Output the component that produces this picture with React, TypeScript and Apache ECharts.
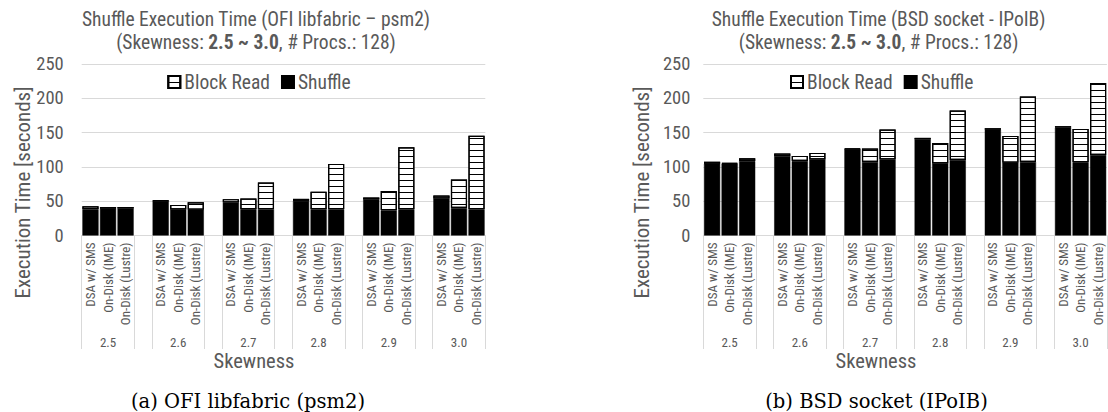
import React, { useEffect, useRef } from 'react';
import * as echarts from 'echarts';

const skewness = ['2.5', '2.6', '2.7', '2.8', '2.9', '3.0'];
const methods = ['DSA w/ SMS', 'On-Disk (IME)', 'On-Disk (Lustre)'];
const yTicks = [0, 50, 100, 150, 200, 250];

// (a) OFI libfabric (psm2) — one value per skewness
const psm2ShuffleDSA = [38.5, 50.5, 48, 50.5, 52.5, 54];
const psm2ShuffleIME = [39, 38, 38.5, 38.5, 37, 40];
const psm2ShuffleLustre = [39.5, 37.5, 38.5, 38.5, 38.5, 38.5];
const psm2BlockDSA = [4.2, 0.5, 5, 2.9, 2.9, 4.3];
const psm2BlockIME = [2.5, 6.6, 15.5, 25.1, 28, 41.6];
const psm2BlockLustre = [2, 11, 38.8, 65.9, 90.2, 106.8];

// (b) BSD socket (IPoIB)
const ipoibShuffleDSA = [104.5, 115.5, 126, 140, 154, 157.4];
const ipoibShuffleIME = [104.5, 108.5, 107.3, 105, 106, 107];
const ipoibShuffleLustre = [108.5, 110.8, 111, 110, 107.3, 117.5];
const ipoibBlockDSA = [3, 4, 0.8, 2.3, 2.4, 1.9];
const ipoibBlockIME = [1, 7.5, 19.5, 30, 39.2, 48.4];
const ipoibBlockLustre = [4.2, 9.6, 43.5, 72.2, 95.3, 104.9];

const FONT = '"Roboto Condensed", "Liberation Sans Narrow", "DejaVu Sans Condensed", Roboto, sans-serif';
const GRAY = '#595959';

function flatten(a: number[], b: number[], c: number[]): (number | string)[] {
  const out: (number | string)[] = [];
  for (let g = 0; g < skewness.length; g++) {
    out.push(a[g], b[g], c[g]);
    if (g < skewness.length - 1) out.push('-');
  }
  return out;
}

function categories(): string[] {
  const out: string[] = [];
  for (let g = 0; g < skewness.length; g++) {
    out.push(...methods);
    if (g < skewness.length - 1) out.push('');
  }
  return out;
}

function groupLabels(): string[] {
  const out: string[] = [];
  for (let g = 0; g < skewness.length; g++) {
    out.push('', skewness[g], '');
    if (g < skewness.length - 1) out.push('');
  }
  return out;
}

const blockStyle = {
  color: '#ffffff',
  borderColor: '#000000',
  borderWidth: 1.2,
  decal: {
    symbol: 'rect',
    symbolSize: 1,
    dashArrayX: [1, 0],
    dashArrayY: [1, 4.7],
    color: '#000000',
    rotation: 0,
  },
};
const shuffleStyle = { color: '#000000', borderColor: '#000000', borderWidth: 0.5 };

export default function App() {
  const ref = useRef<HTMLDivElement>(null);
  useEffect(() => {
    if (!ref.current) return;
    const chart = echarts.init(ref.current, null, { renderer: 'svg' });
    const cats = categories();
    const grp = groupLabels();
    const grids = [
      { left: 81.7, top: 64, width: 403.6, height: 171.5 },
      { left: 703.3, top: 64, width: 403.6, height: 171.5 },
    ];
    const xAxes: any[] = [];
    const yAxes: any[] = [];
    [0, 1].forEach((gi) => {
      xAxes.push({
        type: 'category',
        gridIndex: gi,
        position: 'bottom',
        data: cats,
        axisLine: { show: true, lineStyle: { color: '#d9d9d9', width: 1 } },
        axisTick: {
          show: true,
          length: 113.5,
          lineStyle: { color: '#d9d9d9', width: 1 },
          interval: (i: number) => i % 4 === 0 || i % 4 === 3,
        },
        axisLabel: {
          interval: 0,
          rotate: 90,
          margin: 7,
          fontSize: 13,
          fontFamily: FONT,
          color: GRAY,
        },
      });
      xAxes.push({
        type: 'category',
        gridIndex: gi,
        position: 'bottom',
        offset: 96,
        data: grp,
        axisLine: { show: false },
        axisTick: { show: false },
        axisLabel: { interval: 0, margin: 4, fontSize: 13, fontFamily: FONT, color: GRAY },
      });
      yAxes.push({
        type: 'value',
        gridIndex: gi,
        min: yTicks[0],
        max: yTicks[yTicks.length - 1],
        interval: 50,
        axisLine: { show: false },
        axisTick: { show: false },
        splitLine: { lineStyle: { color: '#d9d9d9', width: 1 } },
        axisLabel: { margin: gi === 0 ? 18 : 13, fontSize: 18.5, fontFamily: FONT, color: GRAY },
      });
    });

    const mk = (name: string, xi: number, yi: number, stack: string, data: any[], style: any) => ({
      name,
      type: 'bar',
      xAxisIndex: xi,
      yAxisIndex: yi,
      stack,
      data,
      barCategoryGap: '8%',
      itemStyle: style,
      emphasis: { disabled: true },
    });

    const series = [
      mk('Shuffle', 0, 0, 'a', flatten(psm2ShuffleDSA, psm2ShuffleIME, psm2ShuffleLustre), shuffleStyle),
      mk('Block Read', 0, 0, 'a', flatten(psm2BlockDSA, psm2BlockIME, psm2BlockLustre), blockStyle),
      mk('Shuffle', 2, 1, 'b', flatten(ipoibShuffleDSA, ipoibShuffleIME, ipoibShuffleLustre), shuffleStyle),
      mk('Block Read', 2, 1, 'b', flatten(ipoibBlockDSA, ipoibBlockIME, ipoibBlockLustre), blockStyle),
    ];

    const legendCommon = {
      data: ['Block Read', 'Shuffle'],
      top: 67,
      icon: 'rect',
      itemWidth: 12,
      itemHeight: 12,
      itemGap: 11,
      selectedMode: false,
      textStyle: { fontSize: 19.5, fontFamily: FONT, color: GRAY, padding: [0, 0, 0, -1] },
    };

    const tok = (w: string) => ({ fontSize: 19.5, fontFamily: FONT, fontWeight: w, fill: GRAY });
    const titleTexts = (x: number, line1: string) => [
      {
        type: 'text',
        x,
        y: 19.5,
        style: { text: line1, align: 'center', verticalAlign: 'middle', ...tok('normal') },
      },
      {
        type: 'text',
        x,
        y: 42,
        style: {
          text: '{n|(Skewness: }{b|2.5 ~ 3.0}{n|, # Procs.: 128)}',
          align: 'center',
          verticalAlign: 'middle',
          ...tok('normal'),
          rich: { n: tok('normal'), b: tok('bold') },
        },
      },
    ];
    const yName = (x: number) => ({
      type: 'text',
      x,
      y: 192.5,
      rotation: Math.PI / 2,
      style: {
        text: 'Execution Time [seconds]',
        align: 'center',
        verticalAlign: 'middle',
        fontSize: 21,
        fontFamily: FONT,
        fill: GRAY,
      },
    });
    const xName = (x: number) => ({
      type: 'text',
      x,
      y: 361,
      style: { text: 'Skewness', align: 'center', verticalAlign: 'middle', fontSize: 20.5, fontFamily: FONT, fill: GRAY },
    });
    const caption = (x: number, text: string) => ({
      type: 'text',
      x,
      y: 401,
      style: {
        text,
        align: 'center',
        verticalAlign: 'middle',
        fontSize: 19.5,
        fontFamily: '"DejaVu Serif", "Liberation Serif", serif',
        fill: '#000000',
      },
    });

    chart.setOption({
      animation: false,
      backgroundColor: '#ffffff',
      grid: grids,
      xAxis: xAxes,
      yAxis: yAxes,
      legend: [
        { ...legendCommon, left: 162.3 },
        { ...legendCommon, left: 785 },
      ],
      series,
      graphic: [
        ...titleTexts(256, 'Shuffle Execution Time (OFI libfabric \u2013 psm2)'),
        ...titleTexts(878.6, 'Shuffle Execution Time (BSD socket - IPoIB)'),
        yName(22.5),
        yName(642),
        xName(254),
        xName(876),
        caption(248, '(a) OFI libfabric (psm2)'),
        caption(876.5, '(b) BSD socket (IPoIB)'),
      ],
    });
    return () => chart.dispose();
  }, []);
  return (
    <div
      ref={ref}
      style={{ position: 'absolute', left: 0, top: 0, width: 1108, height: 412, background: '#fff' }}
    />
  );
}
